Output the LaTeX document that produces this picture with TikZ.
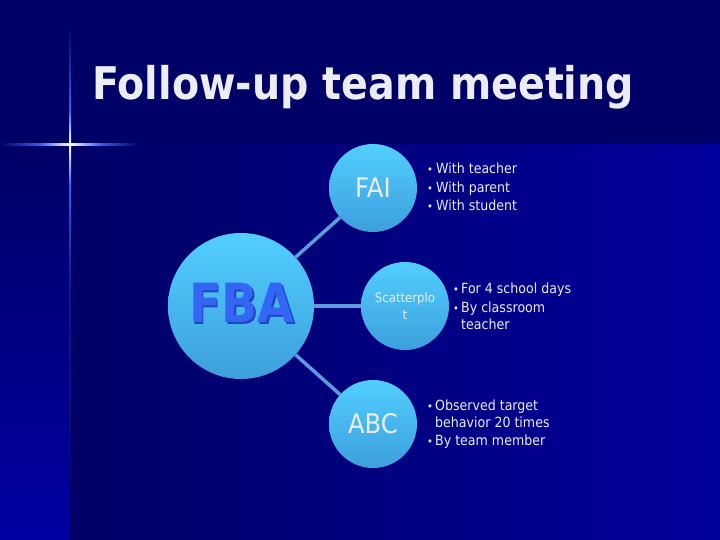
\documentclass[tikz,border=0pt]{standalone}
\usepackage{fontspec}
\newfontfamily\tah[FakeStretch=0.9,BoldFont={DejaVu Sans Bold},BoldFeatures={FakeStretch=0.88}]{DejaVu Sans}
\definecolor{bgtop}{HTML}{000066}
\definecolor{bgright}{HTML}{00009B}
\definecolor{bgleft}{HTML}{0000A2}
\definecolor{glow}{HTML}{3560F0}
\definecolor{ctop}{HTML}{52CEFF}
\definecolor{cbot}{HTML}{3C9FDC}
\definecolor{conncol}{HTML}{5A9CDC}
\definecolor{txt}{HTML}{ECECF4}
\definecolor{fbacol}{HTML}{3366F5}
\definecolor{fbashadow}{HTML}{1E46C0}
\tikzset{
  bubble/.style={circle,inner sep=0pt,shading=axis,top color=ctop,bottom color=cbot,text=txt,align=center},
  conn/.style={draw=conncol,line width=3.5pt},
  btxt/.style={anchor=base west,inner sep=0pt,text=txt,font=\tah\fontsize{14}{17}\selectfont},
  bdot/.style={anchor=base west,inner sep=0pt,text=txt,font=\tah\fontsize{11}{12}\selectfont}
}
\begin{document}
\begin{tikzpicture}[x=1pt,y=-1pt]
\useasboundingbox (0,0) rectangle (720,540);
% background
\fill[bgtop] (0,0) rectangle (720,540);
\shade[left color=bgtop,right color=bgright] (70,145) rectangle (720,540);
\shade[top color=bgtop,bottom color=bgleft] (0,145) rectangle (70,540);
% star glow
\shade[left color=bgtop,right color=glow] (0,144) rectangle (40,146);
\shade[left color=glow,right color=white] (40,144) rectangle (70,146);
\shade[left color=white,right color=glow] (70,144) rectangle (100,146);
\shade[left color=glow,right color=bgtop] (100,144) rectangle (140,146);
\shade[top color=bgtop,bottom color=glow] (69,25) rectangle (71,110);
\shade[top color=glow,bottom color=white] (69,110) rectangle (71,145);
\shade[top color=white,bottom color=glow] (69,145) rectangle (71,185);
\shade[top color=glow,bottom color=bgtop!70!glow] (69,185) rectangle (71,280);
\shade[top color=bgtop!70!glow,bottom color=bgtop] (69.4,280) rectangle (70.6,540);
% title
\node[anchor=base west,inner sep=0pt,text=txt,font=\tah\bfseries\fontsize{45}{50}\selectfont] (title) at (92,100) {Follow-up team meeting};
% bubbles
\node[bubble,minimum size=146pt] (fba) at (241,306) {};
\node[bubble,minimum size=88pt,font=\tah\fontsize{27}{30}\selectfont] (fai) at (373,188) {FAI};
\node[bubble,minimum size=88pt,font=\tah\fontsize{13}{17}\selectfont] (sp) at (405,306) {Scatterplo\\t};
\node[bubble,minimum size=88pt,font=\tah\fontsize{27}{30}\selectfont] (abc) at (373,424) {ABC};
% FBA label
\node[text=fbashadow,font=\tah\bfseries\fontsize{54}{58}\selectfont] (fbash) at (243.5,304.5) {FBA};
\node[text=fbacol,font=\tah\bfseries\fontsize{54}{58}\selectfont] (fbalbl) at (242,303) {FBA};
% connectors
\draw[conn] (fba) -- (fai);
\draw[conn] (fba) -- (sp);
\draw[conn] (fba) -- (abc);
% bullets block 1
\node[bdot] (d1) at (427,174) {•};
\node[btxt] (t1) at (436,174) {With teacher};
\node[bdot] (d2) at (427,192.5) {•};
\node[btxt] (t2) at (436,192.5) {With parent};
\node[bdot] (d3) at (427,211) {•};
\node[btxt] (t3) at (436,211) {With student};
% block 2
\node[bdot] (d4) at (453,293) {•};
\node[btxt] (t4) at (461,293) {For 4 school days};
\node[bdot] (d5) at (453,312) {•};
\node[btxt] (t5) at (461,312) {By classroom};
\node[btxt] (t6) at (461,329) {teacher};
% block 3
\node[bdot] (d6) at (427,410) {•};
\node[btxt] (t7) at (435,410) {Observed target};
\node[btxt] (t8) at (435,427) {behavior 20 times};
\node[bdot] (d7) at (427,445) {•};
\node[btxt] (t9) at (435,445) {By team member};
\end{tikzpicture}
\end{document}
